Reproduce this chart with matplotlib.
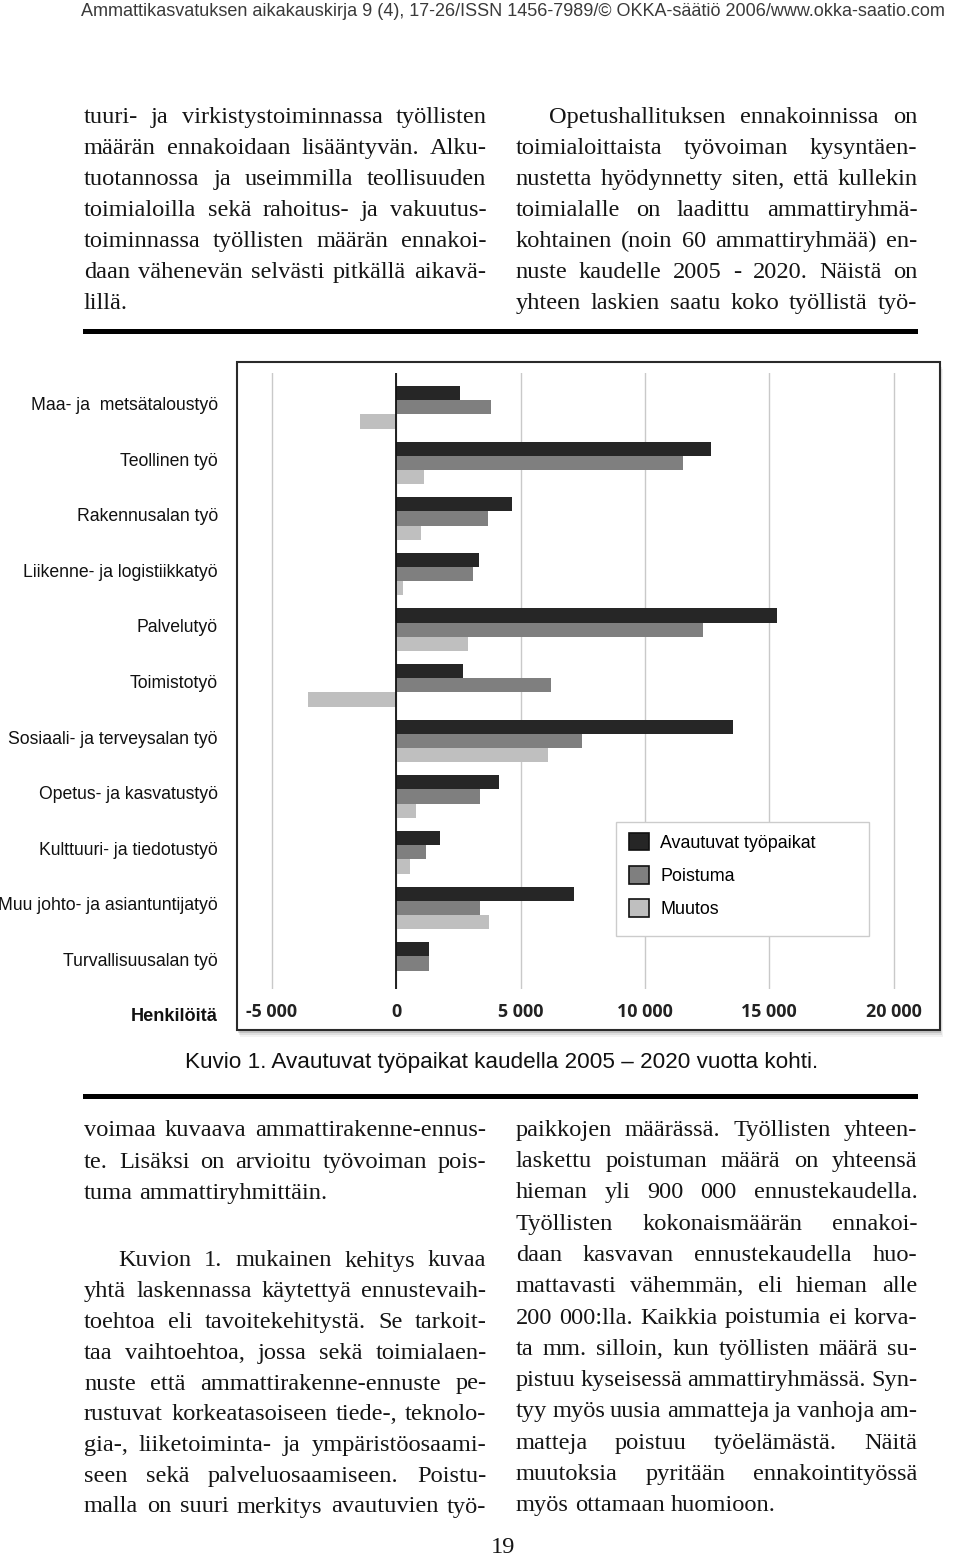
import numpy as np
import matplotlib
matplotlib.use("Agg")
import matplotlib.pyplot as plt
from matplotlib.patches import Rectangle
from matplotlib.transforms import blended_transform_factory

# page size in pixels
W, H = 960, 1556

# chart data (henkilöitä / vuosi)
categories = ["Maa- ja  metsätaloustyö", "Teollinen työ", "Rakennusalan työ",
              "Liikenne- ja logistiikkatyö", "Palvelutyö", "Toimistotyö",
              "Sosiaali- ja terveysalan työ", "Opetus- ja kasvatustyö",
              "Kulttuuri- ja tiedotustyö", "Muu johto- ja asiantuntijatyö",
              "Turvallisuusalan työ"]
avautuvat = [2550, 12650, 4650, 3330, 15300, 2690, 13550, 4140, 1750, 7150, 1300]
poistuma = [3820, 11550, 3700, 3100, 12340, 6210, 7460, 3370, 1210, 3370, 1300]
muutos = [-1480, 1100, 990, 250, 2900, -3550, 6100, 810, 540, 3740, 0]
series_names = ["Avautuvat työpaikat", "Poistuma", "Muutos"]
xticks = [-5000, 0, 5000, 10000, 15000, 20000]
xtick_labels = ["-5 000", "0", "5 000", "10 000", "15 000", "20 000"]

header = ("Ammattikasvatuksen aikakauskirja 9 (4), 17-26/ISSN 1456-7989/"
          "© OKKA-säätiö 2006/www.okka-saatio.com")
caption = "Kuvio 1. Avautuvat työpaikat kaudella 2005 – 2020 vuotta kohti."

top_left = ["tuuri- ja virkistystoiminnassa työllisten",
            "määrän ennakoidaan lisääntyvän. Alku-",
            "tuotannossa ja useimmilla teollisuuden",
            "toimialoilla sekä rahoitus- ja vakuutus-",
            "toiminnassa työllisten määrän ennakoi-",
            "daan vähenevän selvästi pitkällä aikavä-",
            "lillä."]
top_right = ["Opetushallituksen ennakoinnissa on",
             "toimialoittaista työvoiman kysyntäen-",
             "nustetta hyödynnetty siten, että kullekin",
             "toimialalle on laadittu ammattiryhmä-",
             "kohtainen (noin 60 ammattiryhmää) en-",
             "nuste kaudelle 2005 - 2020. Näistä on",
             "yhteen laskien saatu koko työllistä työ-"]
bottom_left_1 = ["voimaa kuvaava ammattirakenne-ennus-",
                 "te. Lisäksi on arvioitu työvoiman pois-",
                 "tuma ammattiryhmittäin."]
bottom_left_2 = ["Kuvion 1. mukainen kehitys kuvaa",
                 "yhtä laskennassa käytettyä ennustevaih-",
                 "toehtoa eli tavoitekehitystä. Se tarkoit-",
                 "taa vaihtoehtoa, jossa sekä toimialaen-",
                 "nuste että ammattirakenne-ennuste pe-",
                 "rustuvat korkeatasoiseen tiede-, teknolo-",
                 "gia-, liiketoiminta- ja ympäristöosaami-",
                 "seen sekä palveluosaamiseen. Poistu-",
                 "malla on suuri merkitys avautuvien työ-"]
bottom_right = ["paikkojen määrässä. Työllisten yhteen-",
                "laskettu poistuman määrä on yhteensä",
                "hieman yli 900 000 ennustekaudella.",
                "Työllisten kokonaismäärän ennakoi-",
                "daan kasvavan ennustekaudella huo-",
                "mattavasti vähemmän, eli hieman alle",
                "200 000:lla. Kaikkia poistumia ei korva-",
                "ta mm. silloin, kun työllisten määrä su-",
                "pistuu kyseisessä ammattiryhmässä. Syn-",
                "tyy myös uusia ammatteja ja vanhoja am-",
                "matteja poistuu työelämästä. Näitä",
                "muutoksia pyritään ennakointityössä",
                "myös ottamaan huomioon."]

SANS = "Liberation Sans"
SERIF = "Liberation Serif"
INK = "#151515"
colors = ["#262626", "#7f7f7f", "#bfbfbf"]
COL_W = 402


def fx(x):
    return x / W


def fy(y):
    return 1 - y / H


fig = plt.figure(figsize=(W / 100, H / 100), dpi=100)
renderer = fig.canvas.get_renderer()


def word_widths(line, size):
    out = []
    for w in line.split(" "):
        t = fig.text(0, 0, w, family=SERIF, fontsize=size)
        out.append(t.get_window_extent(renderer).width)
        t.remove()
    return out


# biggest body size where every justified line still has some space left
BODY_SIZE = 18.5
for line in top_left + top_right + bottom_left_1 + bottom_left_2 + bottom_right:
    ws = word_widths(line, 17)
    gap = 0.2 * 17 / 72 * 100
    k = COL_W / (sum(ws) + (len(ws) - 1) * gap)
    BODY_SIZE = min(BODY_SIZE, 17 * k)


def put_line(line, x0, x1, y, justify=True, indent=0):
    words = line.split(" ")
    arts = [fig.text(0, fy(y), w, family=SERIF, fontsize=BODY_SIZE,
                     color=INK, va="baseline") for w in words]
    widths = [a.get_window_extent(renderer).width for a in arts]
    if justify and len(words) > 1:
        gap = (x1 - x0 - indent - sum(widths)) / (len(words) - 1)
    else:
        gap = BODY_SIZE / 72 * 100 * 0.25
    x = x0 + indent
    for a, w in zip(arts, widths):
        a.set_x(fx(x))
        x += w + gap


def put_paragraph(lines, x0, x1, y0, pitch, indent=0, last_left=True):
    for i, line in enumerate(lines):
        last = last_left and i == len(lines) - 1
        put_line(line, x0, x1, y0 + i * pitch, justify=not last,
                 indent=indent if i == 0 else 0)


# header, fitted to its width
t = fig.text(fx(80.7), fy(16), header, family=SANS, fontsize=11, color="#3a3a3a",
             va="baseline")
t.set_fontsize(11 * 861 / t.get_window_extent(renderer).width)

# body text columns
LX0, LX1 = 84, 486.5
RX0, RX1 = 515.7, 917.3
put_paragraph(top_left, LX0, LX1, 123, 31.05)
put_paragraph(top_right, RX0, RX1, 123, 31.05, indent=33.6, last_left=False)
put_paragraph(bottom_left_1, LX0, LX1, 1136.5, 31.1)
put_paragraph(bottom_left_2, LX0, LX1, 1266.5, 30.75, indent=34, last_left=False)
put_paragraph(bottom_right, RX0, RX1, 1135.7, 31.3)
fig.text(fx(503), fy(1553), "19", family=SERIF, fontsize=BODY_SIZE, color=INK,
         ha="center", va="baseline")

# thick rules
for ytop in (329, 1094):
    fig.add_artist(Rectangle((fx(83), fy(ytop + 5)), (918 - 83) / W, 5 / H,
                             transform=fig.transFigure, color="black", lw=0))

# chart frame with drop shadow
fl, ft, fr, fb = 236.7, 361.7, 940, 1030
for k, a in ((7, 0.05), (5, 0.08), (3, 0.12)):
    fig.add_artist(Rectangle((fx(fl + k * 0.4), fy(fb + k)), (fr - fl) / W, (fb - ft) / H,
                             transform=fig.transFigure, fc="black", ec="none",
                             alpha=a, zorder=-3))
fig.add_artist(Rectangle((fx(fl), fy(fb)), (fr - fl) / W, (fb - ft) / H,
                         transform=fig.transFigure, fc="white", ec="#2a2a2a",
                         lw=1.5, zorder=-1))

# bar chart
ax = fig.add_axes([fx(236.7), fy(989), (940 - 236.7) / W, (989 - 373) / H])
ax.patch.set_facecolor("none")
y = np.arange(len(categories))
h = 0.2554
for k, (vals, name) in enumerate(zip([avautuvat, poistuma, muutos], series_names)):
    ax.barh(y + (k - 1) * h, vals, height=h, color=colors[k], label=name, zorder=2)

ax.set_xlim(-6420, 21870)
ax.set_ylim(10.46, -0.617)
ax.set_xticks(xticks)
ax.xaxis.grid(True, color="#c9c9c9", lw=1.0)
ax.set_axisbelow(True)
ax.axvline(0, color="#111111", lw=1.3, zorder=3)
for s in ax.spines.values():
    s.set_visible(False)
ax.tick_params(axis="x", length=0, labelbottom=False)
ax.set_yticks(y - 0.07)
ax.set_yticklabels(categories, family=SANS, fontsize=12.7, color="#111111")
ax.tick_params(axis="y", length=0, pad=13.5)

trans = blended_transform_factory(ax.transData, fig.transFigure)
for v, lab in zip(xticks, xtick_labels):
    ax.text(v, fy(1016.7), lab, transform=trans, ha="center", va="baseline",
            family="Open Sans", weight="bold", fontsize=12.9, color="#222222")
fig.text(fx(218), fy(1021), "Henkilöitä", ha="right", va="baseline",
         family=SANS, weight="bold", fontsize=13.1, color="#111111")

# legend
ax.add_patch(Rectangle((fx(615.7), fy(935.7)), (868.7 - 615.7) / W, (935.7 - 822.3) / H,
                       transform=fig.transFigure, fc="white", ec="#cccccc", lw=1,
                       zorder=4))
leg = ax.legend(loc="upper left", bbox_to_anchor=(fx(629), fy(833)),
                bbox_transform=fig.transFigure, frameon=False,
                prop=dict(family=SANS, size=12.9), handlelength=1.12,
                handleheight=1.12, handletextpad=0.63, labelspacing=0.8,
                borderpad=0, borderaxespad=0)
leg.set_zorder(5)
for p in leg.get_patches():
    p.set_edgecolor("#111111")
    p.set_linewidth(1.2)

# caption
fig.text(fx(502), fy(1068.3), caption, ha="center", va="baseline", family=SANS,
         fontsize=16.2, color="#111111")

fig.savefig("out.png", dpi=100)
